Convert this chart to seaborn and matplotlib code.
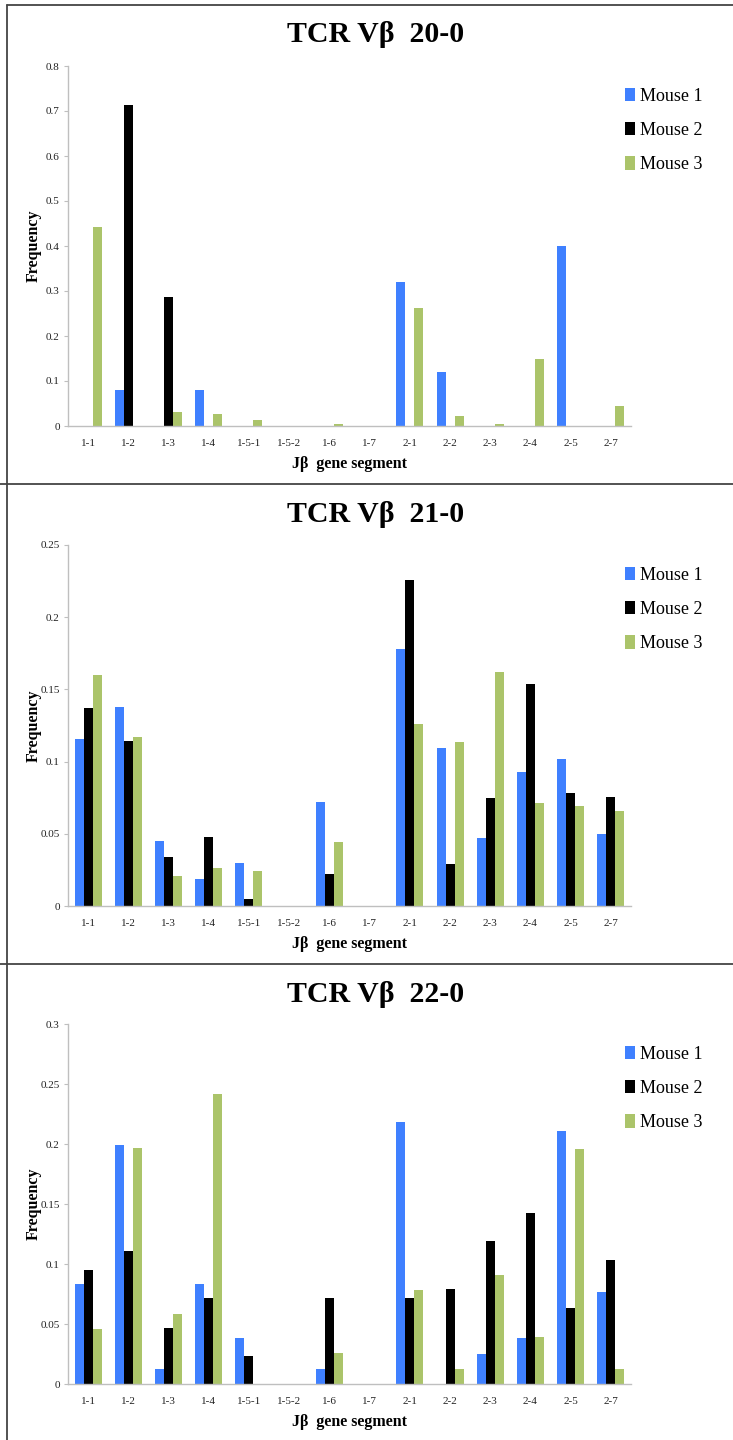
import numpy as np
import pandas as pd
import matplotlib
matplotlib.use("Agg")
import matplotlib.pyplot as plt
from matplotlib.lines import Line2D
from matplotlib.patches import Patch
from matplotlib.ticker import FuncFormatter
import seaborn as sns

# ---------------- data ----------------
segments = ["1-1", "1-2", "1-3", "1-4", "1-5-1", "1-5-2", "1-6", "1-7",
            "2-1", "2-2", "2-3", "2-4", "2-5", "2-7"]
mice = ["Mouse 1", "Mouse 2", "Mouse 3"]
titles = ["TCR V\u03b2  20-0", "TCR V\u03b2  21-0", "TCR V\u03b2  22-0"]

v20_m1 = [0, 0.080, 0, 0.080, 0, 0, 0, 0, 0.320, 0.120, 0, 0, 0.400, 0]
v20_m2 = [0, 0.714, 0.286, 0, 0, 0, 0, 0, 0, 0, 0, 0, 0, 0]
v20_m3 = [0.442, 0, 0.032, 0.026, 0.013, 0, 0.004, 0, 0.262, 0.022, 0.004, 0.148, 0, 0.045]

v21_m1 = [0.1155, 0.138, 0.045, 0.019, 0.0295, 0, 0.072, 0, 0.178, 0.1095, 0.047, 0.093, 0.102, 0.050]
v21_m2 = [0.137, 0.114, 0.034, 0.048, 0.005, 0, 0.022, 0, 0.226, 0.029, 0.0747, 0.154, 0.078, 0.0757]
v21_m3 = [0.160, 0.117, 0.021, 0.026, 0.024, 0, 0.044, 0, 0.126, 0.1135, 0.162, 0.071, 0.069, 0.0655]

v22_m1 = [0.0832, 0.1988, 0.0125, 0.083, 0.038, 0, 0.0125, 0, 0.218, 0, 0.025, 0.038, 0.211, 0.0765]
v22_m2 = [0.0948, 0.111, 0.047, 0.0713, 0.0236, 0, 0.0713, 0, 0.0713, 0.079, 0.119, 0.1425, 0.063, 0.103]
v22_m3 = [0.0457, 0.1963, 0.0585, 0.242, 0, 0, 0.0258, 0, 0.078, 0.0125, 0.091, 0.0388, 0.196, 0.0125]

yticks20 = [0, 0.1, 0.2, 0.3, 0.4, 0.5, 0.6, 0.7, 0.8]
yticks21 = [0, 0.05, 0.1, 0.15, 0.2, 0.25]
yticks22 = [0, 0.05, 0.1, 0.15, 0.2, 0.25, 0.3]

colors = ["#3F80FF", "#000000", "#ABC46A"]

panels = [
    (titles[0], [v20_m1, v20_m2, v20_m3], yticks20),
    (titles[1], [v21_m1, v21_m2, v21_m3], yticks21),
    (titles[2], [v22_m1, v22_m2, v22_m3], yticks22),
]

# ---------------- style ----------------
sns.set_theme(style="white")
plt.rcParams["font.family"] = ["Liberation Serif", "DejaVu Serif"]
plt.rcParams["text.color"] = "black"
plt.rcParams["axes.labelcolor"] = "black"

W, H = 733, 1440
fig = plt.figure(figsize=(W / 100, H / 100), dpi=100)

# pixel layout: (axes top px, axes bottom px, title center px, legend top px, separator px)
layout = [
    (66, 426, 35, 88, 5),
    (545, 906, 515, 567, 484),
    (1024, 1384, 994, 1046, 964),
]
ax_left, ax_right = 68, 631

def fy(px):
    return 1 - px / H

def fx(px):
    return px / W

for (title, series, yt), (top, bot, ty, ly, sep) in zip(panels, layout):
    ax = fig.add_axes([fx(ax_left), fy(bot), fx(ax_right) - fx(ax_left), (bot - top) / H])
    df = pd.DataFrame({
        "segment": np.tile(segments, len(mice)),
        "mouse": np.repeat(mice, len(segments)),
        "freq": np.concatenate([np.asarray(s, float) for s in series]),
    })
    sns.barplot(data=df, x="segment", y="freq", hue="mouse", order=segments,
                hue_order=mice, palette=colors, saturation=1, width=0.67,
                linewidth=0, errorbar=None, ax=ax, legend=False)
    ax.set_ylim(yt[0], yt[-1])
    ax.set_yticks(yt)
    ax.yaxis.set_major_formatter(FuncFormatter(lambda v, p: "%g" % v))
    ax.set_xlim(-0.5, len(segments) - 0.5)
    for s in ["top", "right"]:
        ax.spines[s].set_visible(False)
    for s in ["left", "bottom"]:
        ax.spines[s].set_color("#BFBFBF")
        ax.spines[s].set_linewidth(1.0)
    ax.tick_params(axis="y", length=3, width=0.8, color="#BFBFBF", direction="out",
                   labelsize=8, pad=3, left=True)
    ax.tick_params(axis="x", length=0, labelsize=8, pad=9)
    for lab in ax.get_xticklabels() + ax.get_yticklabels():
        lab.set_color("#222222")
    ax.set_xlabel("J\u03b2  gene segment", fontsize=11.5, fontweight="bold", labelpad=6)
    ax.set_ylabel("Frequency", fontsize=11.5, fontweight="bold")
    ax.yaxis.set_label_coords((42 - ax_left) / (ax_right - ax_left), 0.5)

    fig.text(fx(376), fy(ty), title, ha="center", va="center",
             fontsize=21.5, fontweight="bold", color="black")

    handles = [Patch(facecolor=c, edgecolor="none") for c in colors]
    fig.legend(handles, mice, loc="upper left", bbox_to_anchor=(fx(625), fy(ly)),
               frameon=False, fontsize=13, handlelength=0.55, handleheight=0.75,
               handletextpad=0.3, labelspacing=0.95, borderaxespad=0, borderpad=0)

    # panel frame lines
    fig.add_artist(Line2D([fx(7 if sep == 5 else 0), 1], [fy(sep), fy(sep)],
                          color="#444444", lw=1.3, transform=fig.transFigure))

fig.add_artist(Line2D([fx(7), fx(7)], [fy(5), 0], color="#444444", lw=1.3,
                      transform=fig.transFigure))

fig.savefig("out.png", dpi=100, facecolor="white")
